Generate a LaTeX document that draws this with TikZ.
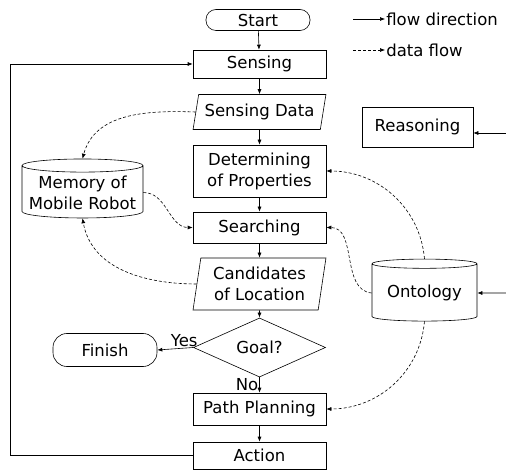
\documentclass[tikz,border=0pt]{standalone}
\usepackage{fontspec}
\setmainfont{DejaVu Sans}
\usetikzlibrary{shapes.geometric,arrows.meta}
\begin{document}
\begin{tikzpicture}[x=1pt,y=-1pt,line width=0.6pt,
    font=\fontsize{16.5}{21}\selectfont,
    every node/.style={align=center,inner sep=1pt},
    term/.style={draw,rounded corners=10pt,minimum width=104pt,minimum height=21pt},
    proc/.style={draw,minimum width=133pt},
    inout/.style={draw,trapezium,trapezium stretches=true,minimum width=133pt},
    store/.style={draw,cylinder,shape border rotate=90,aspect=0.12},
    flow/.style={-{Latex[length=5pt,width=4pt]}},
    data/.style={flow,dash pattern=on 3pt off 2pt}]
    \useasboundingbox (0,0) rectangle (506,470);
    \node [term] (start) at (258,20) {Start};
    \node [proc,minimum height=28pt] (sense) at (259.5,64) {Sensing};
    \node [inout,minimum height=35pt,trapezium left angle=74,trapezium right angle=106] (sdata) at (259.5,112) {Sensing Data};
    \node [proc,minimum height=52pt] (determ) at (259.5,171) {Determining\\of Properties};
    \node [proc,minimum height=31pt] (search) at (259.5,227.5) {Searching};
    \node [inout,minimum height=52pt,trapezium left angle=80,trapezium right angle=100] (cand) at (259.5,284) {Candidates\\of Location};
    \node [draw,diamond,minimum width=132pt,minimum height=52pt,inner sep=0pt] (goal) at (259.5,347.5) {Goal?};
    \node [term,minimum height=33pt,rounded corners=14pt] (finish) at (105,350) {Finish};
    \node [proc,minimum height=32pt] (plan) at (259.5,409) {Path Planning};
    \node [proc,minimum height=27pt] (action) at (259.5,455.5) {Action};
    \node [store,minimum width=121pt,minimum height=59pt] (memory) at (82.5,192.5) {Memory of\\Mobile Robot};
    \node [store,minimum width=105pt,minimum height=62pt] (onto) at (424.5,293) {Ontology};
    \node [proc,minimum width=111pt,minimum height=40pt] (reason) at (417.5,127) {Reasoning};
    \draw [flow] (start) -- (sense);
    \draw [flow] (sense) -- (sdata);
    \draw [flow] (sdata) -- (determ);
    \draw [flow] (determ) -- (search);
    \draw [flow] (search) -- (cand);
    \draw [flow] (cand) -- (goal);
    \draw [flow] (goal.west) -- node [pos=0.25,above] {Yes} (finish.east);
    \draw [flow] (goal.south) -- node [pos=0.45,left] {No} (plan.north);
    \draw [flow] (plan) -- (action);
    \draw [flow] (action.west) -- ++(-182,0) |- (sense.west);
    \draw [data] (sdata.west) to [out=178,in=75] (memory.north);
    \draw [data] (memory.east) to [out=0,in=180] (search.west);
    \draw [data] (cand.west) to [out=180,in=-80] (memory.south);
    \draw [data] (onto.north) to [out=95,in=0] (determ.east);
    \draw [data] (onto.west) to [out=175,in=0] (search.east);
    \draw [data] (onto.south) to [out=-95,in=0] (plan.east);
    \coordinate (rin) at (506,133);
    \coordinate (oin) at (506,293);
    \draw [flow] (rin) -- (reason.east |- rin);
    \draw [flow] (oin) -- (onto.east);
    % legend
    \node [anchor=west] (ldir) at (385,19) {flow direction};
    \node [anchor=west] (ldata) at (385,50) {data flow};
    \coordinate (la) at (353,19);
    \coordinate (lb) at (353,50);
    \draw [flow] (la) -- (ldir.west);
    \draw [data] (lb) -- (ldata.west);
\end{tikzpicture}
\end{document}
